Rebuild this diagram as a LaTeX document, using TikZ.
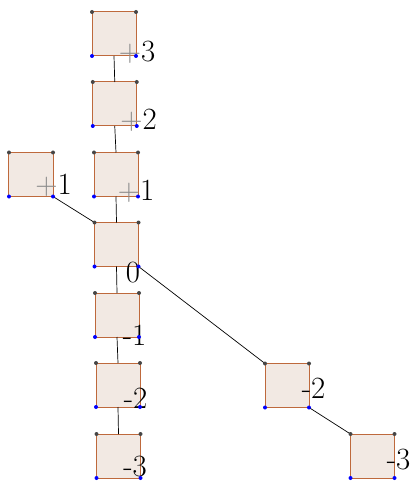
\documentclass[tikz,border=0pt]{standalone}
\usepackage{xcolor}

\definecolor{boxfill}{RGB}{242,233,227}
\definecolor{boxline}{RGB}{190,105,60}
\definecolor{topdot}{RGB}{70,70,70}

\tikzset{
  Box/.style={draw=boxline, line width=1bp, fill=boxfill, minimum size=44bp, inner sep=0pt, outer sep=0pt},
  Num/.style={anchor=base, inner sep=0pt, font=\fontsize{31}{36}\selectfont},
  Link/.style={draw=black, line width=0.7bp},
}
\newcommand{\plus}{\textcolor{black!45}{+}}

\begin{document}
\begin{tikzpicture}[x=1bp, y=-1bp]
    \useasboundingbox (0,0) rectangle (410,481);

    % Boxes
    \foreach \name/\x/\y in {p3/114/34, p2/114.75/104, p1/116/174.5, q1/31/174.5, z/116.5/244.5,
                             m1/117/315, m2/118/385, m3/118.5/456, r2/287/385.5, r3/372.5/456}
        \node[Box] (\name) at (\x,\y) {};

    % Edges
    \foreach \a/\b in {p3/p2, p2/p1, p1/z, z/m1, m1/m2, m2/m3}
        \draw[Link] (\a.south) -- (\b.north);
    \foreach \a/\b in {q1/z, z/r2, r2/r3}
        \draw[Link] (\a.south east) -- (\b.north west);

    % Labels
    \node[Num] (lp3) at (137,62)    {\plus3};
    \node[Num] (lp2) at (138.5,130) {\plus2};
    \node[Num] (lp1) at (136,200)   {\plus1};
    \node[Num] (lq1) at (53.5,194)  {\plus1};
    \node[Num] (lz)  at (133,282)   {0};
    \node[Num] (lm1) at (134.5,345) {-1};
    \node[Num] (lm2) at (135.5,408) {-2};
    \node[Num] (lm3) at (135,476)   {-3};
    \node[Num] (lr2) at (313.5,398) {-2};
    \node[Num] (lr3) at (398.5,469) {-3};

    % Corners
    \foreach \name in {p3,p2,p1,q1,z,m1,m2,m3,r2,r3} {
        \fill[topdot] (\name.north west) circle (2bp) (\name.north east) circle (2bp);
        \fill[blue] (\name.south west) circle (2bp) (\name.south east) circle (2bp);
    }
\end{tikzpicture}
\end{document}
